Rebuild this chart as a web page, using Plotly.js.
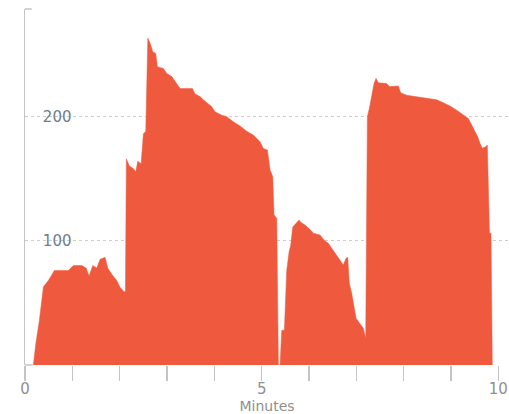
<!DOCTYPE html>
<html>
<head>
<meta charset="utf-8">
<script src="https://cdn.plot.ly/plotly-3.0.1.min.js"></script>
<style>
html,body{margin:0;padding:0;background:#fff;}
#chart{width:509px;height:414px;}
</style>
</head>
<body>
<div id="chart"></div>
<script>
// Time in minutes
var minutes = [
  0.175, 0.226, 0.302, 0.387, 0.492, 0.619, 0.915, 1.021, 1.198, 1.289,
  1.352, 1.430, 1.515, 1.585, 1.690, 1.747, 1.832, 1.937, 2.007, 2.092,
  2.120, 2.140, 2.204, 2.288, 2.339, 2.381, 2.451, 2.500, 2.550, 2.593,
  2.641, 2.698, 2.761, 2.795, 2.922, 2.994, 3.100, 3.169, 3.275, 3.535,
  3.592, 3.697, 3.767, 3.945, 4.014, 4.156, 4.262, 4.401, 4.543, 4.684,
  4.824, 4.965, 5.035, 5.120, 5.177, 5.234, 5.261, 5.318, 5.352,
  5.388, 5.424, 5.479, 5.529, 5.578, 5.614, 5.656, 5.719, 5.789, 5.831,
  5.916, 6.022, 6.091, 6.233, 6.317, 6.408, 6.480, 6.586, 6.655, 6.725,
  6.782, 6.818, 6.852, 6.902, 6.994, 7.063, 7.148, 7.198,
  7.233, 7.275, 7.325, 7.374, 7.416, 7.465, 7.642, 7.697, 7.887, 7.938,
  8.065, 8.276, 8.487, 8.699, 8.838, 8.980, 9.121, 9.261, 9.366, 9.438,
  9.508, 9.565, 9.613, 9.662, 9.734, 9.768, 9.814, 9.846, 9.873
];
// Value at each time
var values = [
  0, 17, 36, 63, 68, 76, 76, 80, 80, 78,
  71.6, 80, 78, 85, 86.6, 78, 73, 68, 62.5, 59,
  59, 166, 160, 158, 155.5, 164, 162, 186, 188, 263,
  259, 252, 250.7, 240, 238.6, 234.6, 232, 228, 222.5, 222.5,
  218, 216, 213.4, 207.8, 203.8, 201, 199.8, 195.7, 192.3, 188,
  185, 179.6, 174.2, 173, 157, 151.5, 120.7, 118, 0,
  0, 28, 28, 76, 91, 96.5, 111, 113.4, 116.7, 114.7,
  112.6, 109, 106, 104.6, 100.6, 97.9, 93.9, 88.5, 84.5, 80.5,
  85.8, 86.6, 65.7, 57.7, 37.6, 33.5, 29.5, 21.5,
  199.8, 206.5, 216, 226.5, 230.6, 227, 226.5, 224, 224.5, 219,
  217, 216, 214.5, 213.4, 211, 208.4, 205, 201, 198.4, 193,
  187.7, 183.6, 178.3, 174.3, 175.6, 177, 106, 106, 0
];
var xTickVals = [0, 1, 2, 3, 4, 5, 6, 7, 8, 9, 10];
var xTickText = ['0', '', '', '', '', '5', '', '', '', '', '10'];
var yTickVals = [0, 100, 200];
var yTickText = ['', '100', '200'];

var trace = {
  x: minutes,
  y: values,
  type: 'scatter',
  mode: 'lines',
  fill: 'tozeroy',
  fillcolor: '#ef5a3e',
  line: {color: '#ef5a3e', width: 0.5},
  hoverinfo: 'x+y'
};

var layout = {
  width: 509,
  height: 414,
  margin: {l: 25, r: 0, t: 9, b: 49, pad: 0},
  paper_bgcolor: '#ffffff',
  plot_bgcolor: '#ffffff',
  showlegend: false,
  font: {family: 'DejaVu Sans, sans-serif', color: '#8a8a8a'},
  xaxis: {
    range: [-0.002, 10.226],
    tickvals: xTickVals,
    ticktext: xTickText,
    ticks: 'outside',
    ticklen: 15,
    tickwidth: 1.5,
    tickcolor: '#c4c4c4',
    ticklabelstandoff: -5,
    showgrid: false,
    zeroline: false,
    showline: false,
    tickfont: {size: 15, color: '#8f8f8f'},
    title: {text: 'Minutes', font: {size: 14, color: '#8f8f8f'}, standoff: 2},
    fixedrange: true
  },
  yaxis: {
    range: [0, 286.4],
    tickvals: yTickVals,
    ticktext: yTickText,
    ticks: '',
    ticklabelposition: 'outside',
    ticklabelstandoff: -51,
    tickfont: {size: 15, color: '#6f7d88'},
    showgrid: true,
    gridcolor: 'rgba(90,90,90,0.3)',
    griddash: 'dot',
    gridwidth: 1,
    zeroline: false,
    showline: true,
    linecolor: '#c4c4c4',
    linewidth: 1.5,
    layer: 'above traces',
    automargin: false,
    fixedrange: true
  },
  shapes: [
    {type: 'line', xref: 'paper', yref: 'paper', x0: 0, x1: 0.014, y0: 1, y1: 1,
     line: {color: '#c4c4c4', width: 1.5}},
    {type: 'line', xref: 'paper', yref: 'paper', x0: 0, x1: 0.016, y0: 0, y1: 0,
     line: {color: '#c4c4c4', width: 1.5}}
  ]
};

Plotly.newPlot('chart', [trace], layout, {displayModeBar: false, staticPlot: true});
</script>
</body>
</html>
